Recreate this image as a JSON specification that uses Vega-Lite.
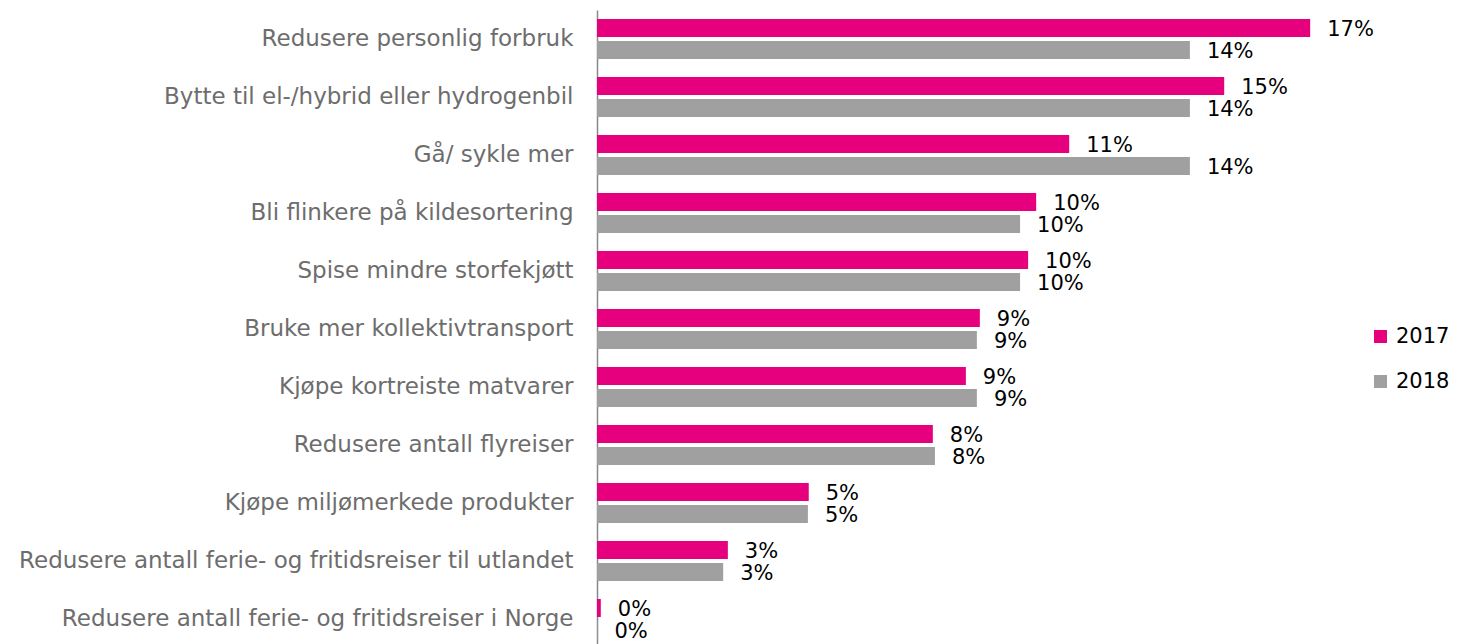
{
  "$schema": "https://vega.github.io/schema/vega-lite/v6.json",
  "width": 847,
  "height": 634,
  "autosize": {"type": "none"},
  "padding": {"left": 597, "top": 10, "right": 14, "bottom": 0},
  "background": "white",
  "config": {"view": {"stroke": null}, "font": "DejaVu Sans"},
  "data": {
    "values": [
      {"kategori": "Redusere personlig forbruk", "år": "2017", "andel": 0.1684},
      {"kategori": "Redusere personlig forbruk", "år": "2018", "andel": 0.1400},
      {"kategori": "Bytte til el-/hybrid eller hydrogenbil", "år": "2017", "andel": 0.1481},
      {"kategori": "Bytte til el-/hybrid eller hydrogenbil", "år": "2018", "andel": 0.1400},
      {"kategori": "Gå/ sykle mer", "år": "2017", "andel": 0.1115},
      {"kategori": "Gå/ sykle mer", "år": "2018", "andel": 0.1400},
      {"kategori": "Bli flinkere på kildesortering", "år": "2017", "andel": 0.1037},
      {"kategori": "Bli flinkere på kildesortering", "år": "2018", "andel": 0.0999},
      {"kategori": "Spise mindre storfekjøtt", "år": "2017", "andel": 0.1018},
      {"kategori": "Spise mindre storfekjøtt", "år": "2018", "andel": 0.0999},
      {"kategori": "Bruke mer kollektivtransport", "år": "2017", "andel": 0.0904},
      {"kategori": "Bruke mer kollektivtransport", "år": "2018", "andel": 0.0897},
      {"kategori": "Kjøpe kortreiste matvarer", "år": "2017", "andel": 0.0871},
      {"kategori": "Kjøpe kortreiste matvarer", "år": "2018", "andel": 0.0897},
      {"kategori": "Redusere antall flyreiser", "år": "2017", "andel": 0.0793},
      {"kategori": "Redusere antall flyreiser", "år": "2018", "andel": 0.0798},
      {"kategori": "Kjøpe miljømerkede produkter", "år": "2017", "andel": 0.0500},
      {"kategori": "Kjøpe miljømerkede produkter", "år": "2018", "andel": 0.0498},
      {"kategori": "Redusere antall ferie- og fritidsreiser til utlandet", "år": "2017", "andel": 0.0309},
      {"kategori": "Redusere antall ferie- og fritidsreiser til utlandet", "år": "2018", "andel": 0.0298},
      {"kategori": "Redusere antall ferie- og fritidsreiser i Norge", "år": "2017", "andel": 0.0009},
      {"kategori": "Redusere antall ferie- og fritidsreiser i Norge", "år": "2018", "andel": 0.0001}
    ]
  },
  "encoding": {
    "y": {
      "field": "kategori",
      "type": "nominal",
      "sort": null,
      "scale": {"range": [0, 638], "paddingInner": 0.31, "paddingOuter": 0.155},
      "axis": {
        "title": null,
        "ticks": false,
        "labelPadding": 24,
        "labelFont": "DejaVu Sans",
        "labelFontSize": 23,
        "labelColor": "#6d6d6d",
        "domainColor": "#888888",
        "domainWidth": 1.5,
        "labelLimit": 0,
        "grid": false
      }
    },
    "yOffset": {
      "field": "år",
      "type": "nominal",
      "scale": {"paddingInner": 0.18, "paddingOuter": 0}
    },
    "x": {
      "field": "andel",
      "type": "quantitative",
      "scale": {"domain": [0, 0.2], "nice": false, "zero": true},
      "axis": null
    }
  },
  "layer": [
    {
      "mark": {"type": "bar"},
      "encoding": {
        "color": {
          "field": "år",
          "type": "nominal",
          "scale": {"domain": ["2017", "2018"], "range": ["#E6007E", "#A0A0A0"]},
          "legend": {
            "orient": "none",
            "legendX": 773,
            "legendY": 316,
            "title": null,
            "symbolType": "square",
            "symbolSize": 169,
            "symbolStrokeWidth": 0,
            "labelFont": "DejaVu Sans",
            "labelFontSize": 21,
            "labelColor": "#000000",
            "labelOffset": 5,
            "rowPadding": 23
          }
        }
      }
    },
    {
      "mark": {"type": "text", "align": "left", "baseline": "middle", "dx": 17, "dy": 2, "font": "DejaVu Sans", "fontSize": 21, "color": "#000000"},
      "encoding": {
        "text": {"field": "andel", "type": "quantitative", "format": ".0%"}
      }
    }
  ]
}
